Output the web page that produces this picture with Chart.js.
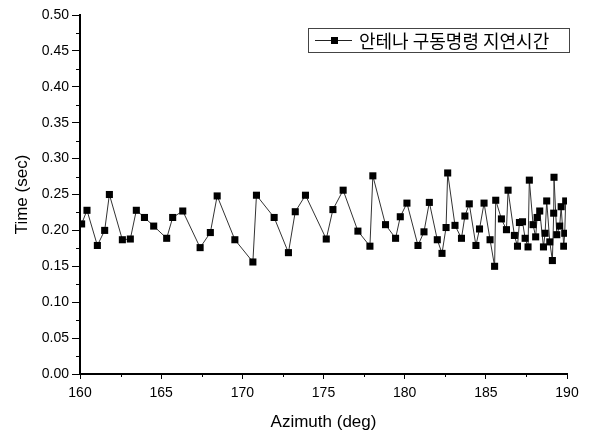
<!DOCTYPE html>
<html>
<head>
<meta charset="utf-8">
<script src="https://cdn.jsdelivr.net/npm/chart.js@4.4.0/dist/chart.umd.min.js"></script>
<style>
html, body { margin: 0; padding: 0; background: #fff; }
#wrap { width: 594px; height: 433px; }
</style>
</head>
<body>
<div id="wrap"><canvas id="delayChart" width="594" height="433"></canvas></div>
<script>
// 방위각 (deg)
var azimuth = [160.10,160.43,161.07,161.52,161.81,162.61,163.10,163.47,163.97,164.54,
165.34,165.71,166.33,167.40,168.03,168.45,169.54,170.65,170.87,171.96,
172.84,173.26,173.89,175.17,175.58,176.21,177.12,177.86,178.04,178.82,
179.44,179.73,180.14,180.82,181.19,181.52,182.01,182.30,182.55,182.65,
183.10,183.50,183.71,183.98,184.39,184.61,184.89,185.26,185.54,185.61,
185.96,186.27,186.37,186.76,186.95,187.07,187.26,187.42,187.60,187.68,
187.91,188.07,188.16,188.32,188.55,188.65,188.75,188.94,189.10,189.18,
189.20,189.37,189.55,189.64,189.80,189.86,189.92];

// 지연시간 (sec)
var delay = [0.209,0.228,0.179,0.200,0.250,0.187,0.188,0.228,0.218,0.206,
0.189,0.218,0.227,0.176,0.197,0.248,0.187,0.156,0.249,0.218,
0.169,0.226,0.249,0.188,0.229,0.256,0.199,0.178,0.276,0.208,
0.189,0.219,0.238,0.179,0.198,0.239,0.187,0.168,0.204,0.280,
0.207,0.189,0.220,0.237,0.179,0.202,0.238,0.187,0.150,0.242,
0.216,0.201,0.256,0.193,0.178,0.211,0.212,0.189,0.177,0.270,
0.208,0.191,0.218,0.227,0.177,0.196,0.241,0.184,0.158,0.224,
0.274,0.194,0.206,0.233,0.178,0.196,0.241];

var xTicks = [160, 165, 170, 175, 180, 185, 190];
var yTicks = [0, 0.05, 0.10, 0.15, 0.20, 0.25, 0.30, 0.35, 0.40, 0.45, 0.50];
var seriesName = '안테나 구동명령 지연시간';

var FONT = '"Liberation Sans", Arial, "Noto Sans CJK KR", sans-serif';

var points = [];
for (var i = 0; i < azimuth.length; i++) {
    points.push({ x: azimuth[i], y: delay[i] });
}

// 보조 눈금 + 범례 박스
var extras = {
    id: 'extras',
    afterDraw: function(chart) {
        var ctx = chart.ctx;
        var xs = chart.scales.x, ys = chart.scales.y;
        ctx.save();
        ctx.strokeStyle = '#000';
        ctx.lineWidth = 1;
        ctx.beginPath();
        for (var v = 162.5; v < 190; v += 5) {
            var px = Math.round(xs.getPixelForValue(v)) + 0.5;
            ctx.moveTo(px, ys.bottom);
            ctx.lineTo(px, ys.bottom + 3);
        }
        for (var k = 1; k < 20; k += 2) {
            var py = Math.round(ys.getPixelForValue(k * 0.025)) + 0.5;
            ctx.moveTo(xs.left, py);
            ctx.lineTo(xs.left - 4, py);
        }
        ctx.stroke();

        // legend
        var bx = 308.5, by = 28.5, bw = 261, bh = 24;
        ctx.strokeStyle = '#444';
        ctx.strokeRect(bx, by, bw, bh);
        var cy = by + bh / 2;
        ctx.strokeStyle = '#222';
        ctx.beginPath();
        ctx.moveTo(315, cy);
        ctx.lineTo(352, cy);
        ctx.stroke();
        ctx.fillStyle = '#000';
        ctx.fillRect(331, cy - 3.5, 7, 7);
        ctx.font = '18px "Noto Sans CJK KR", sans-serif';
        ctx.textBaseline = 'middle';
        ctx.textAlign = 'left';
        ctx.fillText(seriesName, 359, cy + 1);
        ctx.restore();
    }
};

new Chart(document.getElementById('delayChart').getContext('2d'), {
    type: 'scatter',
    data: {
        datasets: [{
            label: seriesName,
            data: points,
            showLine: true,
            borderColor: '#333',
            borderWidth: 1,
            backgroundColor: '#000',
            pointBackgroundColor: '#000',
            pointBorderColor: '#000',
            pointBorderWidth: 0,
            pointStyle: 'rect',
            pointRadius: 5,
            tension: 0
        }]
    },
    options: {
        responsive: false,
        animation: false,
        devicePixelRatio: 1,
        layout: { padding: { left: 0, top: 15, right: 27, bottom: 0 } },
        plugins: {
            legend: { display: false },
            tooltip: { enabled: false }
        },
        scales: {
            x: {
                type: 'linear',
                min: 160,
                max: 190,
                afterBuildTicks: function(scale) {
                    scale.ticks = xTicks.map(function(v) { return { value: v }; });
                },
                afterFit: function(scale) { scale.height = 59; },
                ticks: {
                    color: '#000',
                    font: { family: FONT, size: 14 },
                    padding: 6,
                    maxRotation: 0
                },
                grid: { drawOnChartArea: false, color: '#000', tickLength: 5, tickWidth: 1 },
                border: { color: '#000', width: 2 },
                title: {
                    display: true,
                    text: 'Azimuth (deg)',
                    color: '#000',
                    font: { family: FONT, size: 17 },
                    padding: { top: 2, bottom: 0 }
                }
            },
            y: {
                min: 0,
                max: 0.5,
                afterBuildTicks: function(scale) {
                    scale.ticks = yTicks.map(function(v) { return { value: v }; });
                },
                afterFit: function(scale) { scale.width = 80; },
                ticks: {
                    color: '#000',
                    font: { family: FONT, size: 14 },
                    padding: 3,
                    callback: function(v) { return Number(v).toFixed(2); }
                },
                grid: { drawOnChartArea: false, color: '#000', tickLength: 8, tickWidth: 1 },
                border: { color: '#000', width: 2 },
                title: {
                    display: true,
                    text: 'Time (sec)',
                    color: '#000',
                    font: { family: FONT, size: 17 },
                    padding: { top: 12, bottom: 0 }
                }
            }
        }
    },
    plugins: [extras]
});
</script>
</body>
</html>
